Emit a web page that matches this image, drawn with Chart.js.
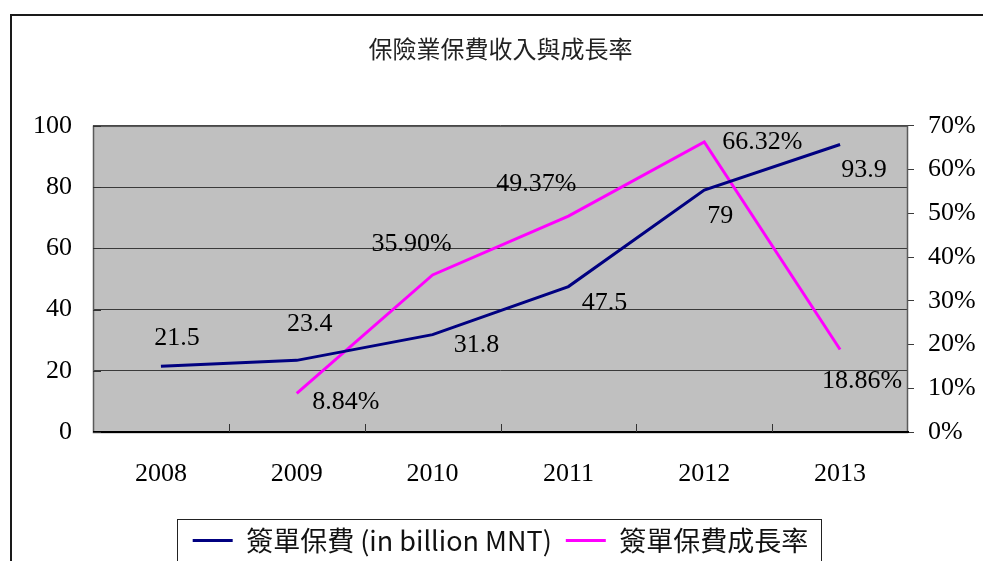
<!DOCTYPE html>
<html>
<head>
<meta charset="utf-8">
<script src="https://cdn.jsdelivr.net/npm/chart.js@4"></script>
<style>
  html, body { margin: 0; padding: 0; background: #fff; overflow: hidden; }
  #wrap { position: relative; width: 983px; height: 564px; }
</style>
</head>
<body>
<div id="wrap"><canvas id="chart" width="983" height="564"></canvas></div>
<script>
// ── DATA ──
const years = ['2008', '2009', '2010', '2011', '2012', '2013'];
const premium = [21.5, 23.4, 31.8, 47.5, 79, 93.9];          // 簽單保費 (in billion MNT)
const growth = [null, 8.84, 35.90, 49.37, 66.32, 18.86];     // 簽單保費成長率 (%)
const premiumName = '簽單保費 (in billion MNT)';
const growthName = '簽單保費成長率';
const chartTitle = '保險業保費收入與成長率';

// ── STYLE ──
const SERIF = '"Liberation Serif", "Times New Roman", serif';
const SANS = '"Noto Sans CJK TC", "Noto Sans", sans-serif';
const NAVY = '#000080';
const MAGENTA = '#ff00ff';

// label offsets from each point, px (Excel-style placement)
const premiumOffsets = [[16, -28], [13, -36], [44, 11], [36, 17], [16, 26], [24, 26]];
const growthOffsets = [null, [49, 9], [-21, -31], [-32, -32], [58, 0], [22, 32]];

// ── PLUGINS ──
const plotBg = {
  id: 'plotBg',
  beforeDraw(chart) {
    const { ctx, chartArea: a } = chart;
    ctx.save();
    ctx.fillStyle = '#fff';
    ctx.fillRect(0, 0, chart.width, chart.height);
    ctx.fillStyle = '#c0c0c0';
    ctx.fillRect(a.left, a.top, a.right - a.left, a.bottom - a.top);
    ctx.restore();
  }
};

const decorations = {
  id: 'decorations',
  afterDraw(chart) {
    const { ctx, chartArea: a } = chart;
    const x = chart.scales.x;
    const y = chart.scales.y;
    ctx.save();

    // plot border
    ctx.strokeStyle = '#5a5a5a';
    ctx.lineWidth = 1.5;
    ctx.strokeRect(a.left + 0.5, a.top + 0.5, a.right - a.left - 1, a.bottom - a.top);
    ctx.strokeStyle = '#000';
    ctx.lineWidth = 2;
    ctx.beginPath();
    ctx.moveTo(a.left, a.bottom);
    ctx.lineTo(a.right + 1, a.bottom);
    ctx.stroke();

    // inward tick marks on category axis
    ctx.lineWidth = 1;
    ctx.strokeStyle = '#333';
    for (let i = 1; i < years.length; i++) {
      const px = Math.round((x.getPixelForValue(i - 1) + x.getPixelForValue(i)) / 2) + 0.5;
      ctx.beginPath();
      ctx.moveTo(px, a.bottom);
      ctx.lineTo(px, a.bottom - 8);
      ctx.stroke();
    }
    // inward tick marks on left axis
    y.ticks.forEach(t => {
      const py = Math.round(y.getPixelForValue(t.value)) + 0.5;
      ctx.beginPath();
      ctx.moveTo(a.left, py);
      ctx.lineTo(a.left + 8, py);
      ctx.stroke();
    });

    // data labels
    ctx.font = '26px ' + SERIF;
    ctx.fillStyle = '#000';
    ctx.textAlign = 'center';
    ctx.textBaseline = 'middle';
    const m0 = chart.getDatasetMeta(0);
    premium.forEach((v, i) => {
      const p = m0.data[i];
      const o = premiumOffsets[i];
      ctx.fillText(String(v), p.x + o[0], p.y + o[1]);
    });
    const m1 = chart.getDatasetMeta(1);
    growth.forEach((v, i) => {
      if (v == null) return;
      const p = m1.data[i];
      const o = growthOffsets[i];
      ctx.fillText(v.toFixed(2) + '%', p.x + o[0], p.y + o[1]);
    });

    // legend frame
    const lg = chart.legend;
    if (lg && lg.legendHitBoxes && lg.legendHitBoxes.length) {
      const hb = lg.legendHitBoxes;
      const first = hb[0];
      const last = hb[hb.length - 1];
      const cy = first.top + first.height / 2;
      const l = Math.round(first.left - 16);
      const r = Math.round(last.left + last.width + 13);
      ctx.strokeStyle = '#222';
      ctx.lineWidth = 1;
      ctx.strokeRect(l + 0.5, Math.round(cy - 22) + 0.5, r - l, 80);
    }

    // outer frame
    ctx.strokeStyle = '#1a1a1a';
    ctx.lineWidth = 2;
    ctx.strokeRect(11, 15, 1200, 1200);
    ctx.restore();
  }
};

// ── CHART ──
new Chart(document.getElementById('chart'), {
  type: 'line',
  data: {
    labels: years,
    datasets: [
      {
        label: premiumName,
        data: premium,
        yAxisID: 'y',
        borderColor: NAVY,
        backgroundColor: NAVY,
        borderWidth: 3,
        pointRadius: 0,
        tension: 0,
      },
      {
        label: growthName,
        data: growth,
        yAxisID: 'y1',
        borderColor: MAGENTA,
        backgroundColor: MAGENTA,
        borderWidth: 3,
        pointRadius: 0,
        tension: 0,
      }
    ]
  },
  options: {
    responsive: false,
    animation: false,
    layout: { padding: 0 },
    plugins: {
      title: {
        display: true,
        fullSize: false,
        text: chartTitle,
        color: '#222',
        font: { family: SANS, size: 24, weight: 'normal' },
        padding: { top: 34, bottom: 63 },
      },
      legend: {
        position: 'bottom',
        fullSize: false,
        labels: {
          usePointStyle: true,
          pointStyle: 'line',
          pointStyleWidth: 40,
          color: '#111',
          font: { family: SANS, size: 27 },
          padding: 14,
        }
      },
      tooltip: { enabled: false },
    },
    scales: {
      x: {
        offset: true,
        grid: { display: false, drawTicks: false },
        border: { display: false },
        ticks: { color: '#000', font: { family: SERIF, size: 26 }, padding: 27, maxRotation: 0, autoSkip: false },
        afterFit(s) { s.height = 81; },
      },
      y: {
        position: 'left',
        min: 0,
        max: 100,
        grid: { color: '#3a3a3a', lineWidth: 1, drawTicks: false },
        border: { display: false },
        ticks: { stepSize: 20, color: '#000', font: { family: SERIF, size: 26 }, padding: 21 },
        afterFit(s) { s.width = 93; },
      },
      y1: {
        position: 'right',
        min: 0,
        max: 70,
        grid: { drawOnChartArea: false, drawTicks: true, tickLength: 6, color: '#3a3a3a' },
        border: { display: false },
        ticks: { stepSize: 10, color: '#000', font: { family: SERIF, size: 26 }, padding: 14, callback: v => v + '%' },
        afterFit(s) { s.width = 75; },
      }
    }
  },
  plugins: [plotBg, decorations]
});
</script>
</body>
</html>
